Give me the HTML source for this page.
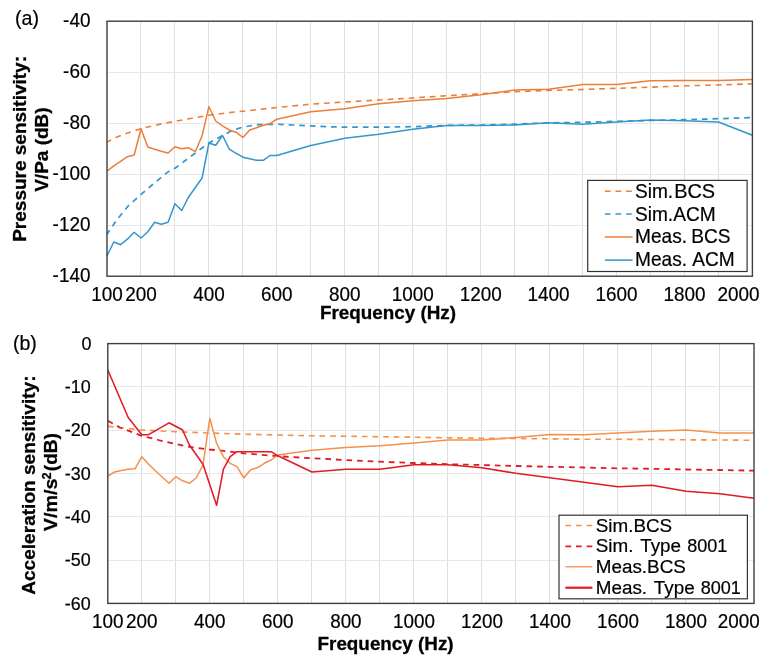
<!DOCTYPE html><html><head><meta charset="utf-8"><title>chart</title><style>
html,body{margin:0;padding:0;background:#fff}
svg{display:block;will-change:transform;opacity:0.999}
text{font-family:"Liberation Sans", sans-serif;fill:#000;stroke:#000;stroke-width:0.2px}
.b{font-weight:bold;stroke-width:0.3px}
</style></head><body>
<svg width="769" height="660" viewBox="0 0 769 660">
<rect x="0" y="0" width="769" height="660" fill="#fff"/>
<line x1="140.97" y1="21.20" x2="140.97" y2="276.20" stroke="#DFDFDF" stroke-width="1" shape-rendering="crispEdges"/>
<line x1="174.94" y1="21.20" x2="174.94" y2="276.20" stroke="#DFDFDF" stroke-width="1" shape-rendering="crispEdges"/>
<line x1="208.91" y1="21.20" x2="208.91" y2="276.20" stroke="#DFDFDF" stroke-width="1" shape-rendering="crispEdges"/>
<line x1="242.87" y1="21.20" x2="242.87" y2="276.20" stroke="#DFDFDF" stroke-width="1" shape-rendering="crispEdges"/>
<line x1="276.84" y1="21.20" x2="276.84" y2="276.20" stroke="#DFDFDF" stroke-width="1" shape-rendering="crispEdges"/>
<line x1="310.81" y1="21.20" x2="310.81" y2="276.20" stroke="#DFDFDF" stroke-width="1" shape-rendering="crispEdges"/>
<line x1="344.78" y1="21.20" x2="344.78" y2="276.20" stroke="#DFDFDF" stroke-width="1" shape-rendering="crispEdges"/>
<line x1="378.75" y1="21.20" x2="378.75" y2="276.20" stroke="#DFDFDF" stroke-width="1" shape-rendering="crispEdges"/>
<line x1="412.72" y1="21.20" x2="412.72" y2="276.20" stroke="#DFDFDF" stroke-width="1" shape-rendering="crispEdges"/>
<line x1="446.68" y1="21.20" x2="446.68" y2="276.20" stroke="#DFDFDF" stroke-width="1" shape-rendering="crispEdges"/>
<line x1="480.65" y1="21.20" x2="480.65" y2="276.20" stroke="#DFDFDF" stroke-width="1" shape-rendering="crispEdges"/>
<line x1="514.62" y1="21.20" x2="514.62" y2="276.20" stroke="#DFDFDF" stroke-width="1" shape-rendering="crispEdges"/>
<line x1="548.59" y1="21.20" x2="548.59" y2="276.20" stroke="#DFDFDF" stroke-width="1" shape-rendering="crispEdges"/>
<line x1="582.56" y1="21.20" x2="582.56" y2="276.20" stroke="#DFDFDF" stroke-width="1" shape-rendering="crispEdges"/>
<line x1="616.53" y1="21.20" x2="616.53" y2="276.20" stroke="#DFDFDF" stroke-width="1" shape-rendering="crispEdges"/>
<line x1="650.49" y1="21.20" x2="650.49" y2="276.20" stroke="#DFDFDF" stroke-width="1" shape-rendering="crispEdges"/>
<line x1="684.46" y1="21.20" x2="684.46" y2="276.20" stroke="#DFDFDF" stroke-width="1" shape-rendering="crispEdges"/>
<line x1="718.43" y1="21.20" x2="718.43" y2="276.20" stroke="#DFDFDF" stroke-width="1" shape-rendering="crispEdges"/>
<line x1="107.00" y1="72.20" x2="752.40" y2="72.20" stroke="#E8E8E8" stroke-width="1" shape-rendering="crispEdges"/>
<line x1="107.00" y1="123.20" x2="752.40" y2="123.20" stroke="#E8E8E8" stroke-width="1" shape-rendering="crispEdges"/>
<line x1="107.00" y1="174.20" x2="752.40" y2="174.20" stroke="#E8E8E8" stroke-width="1" shape-rendering="crispEdges"/>
<line x1="107.00" y1="225.20" x2="752.40" y2="225.20" stroke="#E8E8E8" stroke-width="1" shape-rendering="crispEdges"/>
<text transform="translate(90.40,27.30) scale(0.945,1)" font-size="20.00" text-anchor="end">-40</text>
<text transform="translate(90.40,78.30) scale(0.945,1)" font-size="20.00" text-anchor="end">-60</text>
<text transform="translate(90.40,129.30) scale(0.945,1)" font-size="20.00" text-anchor="end">-80</text>
<text transform="translate(90.40,180.30) scale(0.945,1)" font-size="20.00" text-anchor="end">-100</text>
<text transform="translate(90.40,231.30) scale(0.945,1)" font-size="20.00" text-anchor="end">-120</text>
<text transform="translate(90.40,282.30) scale(0.945,1)" font-size="20.00" text-anchor="end">-140</text>
<text transform="translate(107.00,300.60) scale(0.945,1)" font-size="20.00" text-anchor="middle">100</text>
<text transform="translate(140.97,300.60) scale(0.945,1)" font-size="20.00" text-anchor="middle">200</text>
<text transform="translate(208.91,300.60) scale(0.945,1)" font-size="20.00" text-anchor="middle">400</text>
<text transform="translate(276.84,300.60) scale(0.945,1)" font-size="20.00" text-anchor="middle">600</text>
<text transform="translate(344.78,300.60) scale(0.945,1)" font-size="20.00" text-anchor="middle">800</text>
<text transform="translate(412.72,300.60) scale(0.945,1)" font-size="20.00" text-anchor="middle">1000</text>
<text transform="translate(480.65,300.60) scale(0.945,1)" font-size="20.00" text-anchor="middle">1200</text>
<text transform="translate(548.59,300.60) scale(0.945,1)" font-size="20.00" text-anchor="middle">1400</text>
<text transform="translate(616.53,300.60) scale(0.945,1)" font-size="20.00" text-anchor="middle">1600</text>
<text transform="translate(684.46,300.60) scale(0.945,1)" font-size="20.00" text-anchor="middle">1800</text>
<text transform="translate(738.60,300.60) scale(0.945,1)" font-size="20.00" text-anchor="middle">2000</text>
<g fill="none" stroke-linejoin="round">
<polyline points="107.0,142.0 116.0,137.5 125.0,133.8 140.8,128.7 158.0,124.6 175.0,121.3 192.0,118.2 208.7,115.3 228.0,112.7 242.5,111.3 276.7,107.5 310.5,104.2 344.5,102.0 378.3,100.0 412.5,98.0 446.7,95.7 480.8,93.7 514.7,91.7 548.7,90.4 582.5,89.5 616.7,88.3 650.5,87.2 684.7,85.8 718.8,85.0 752.6,83.8" stroke="#EC7F38" stroke-width="1.60" stroke-dasharray="5.7 4.9" stroke-dashoffset="1.0"/>
<polyline points="107.0,234.2 116.7,220.0 128.3,205.8 140.8,194.7 155.0,182.5 168.3,171.7 175.0,168.3 192.0,155.5 208.5,143.2 222.2,135.8 233.3,130.0 242.5,127.2 256.7,124.7 276.7,124.2 293.3,125.0 310.5,125.8 328.0,126.7 344.5,127.2 378.3,127.2 412.5,126.7 446.7,125.4 480.8,125.0 514.7,124.2 548.7,122.8 582.5,122.3 616.7,121.3 650.5,120.5 684.7,119.7 718.8,118.7 752.6,117.6" stroke="#3496CF" stroke-width="1.70" stroke-dasharray="5.7 4.9" stroke-dashoffset="1.0"/>
<polyline points="107.0,171.2 113.8,165.8 120.6,161.3 127.4,156.7 134.2,155.0 141.0,128.8 147.8,147.0 154.6,149.2 161.3,151.3 168.1,153.0 174.9,146.8 181.7,148.7 188.5,147.8 195.3,151.7 202.1,135.8 208.9,106.7 215.7,121.0 222.5,125.8 229.3,130.0 236.1,132.2 242.9,137.5 249.7,130.0 256.5,127.8 263.3,125.3 270.0,123.7 276.8,119.2 310.8,111.7 344.8,108.7 378.7,103.7 412.7,100.8 446.7,98.5 480.7,94.7 514.6,90.0 548.6,89.3 582.6,84.5 616.5,84.5 650.5,80.8 684.5,80.5 718.4,80.5 752.4,79.5" stroke="#EC7F38" stroke-width="1.50"/>
<polyline points="107.0,255.8 113.8,242.0 120.6,244.7 127.4,239.2 134.2,232.2 141.0,238.0 147.8,231.7 154.6,222.2 161.3,224.3 168.1,222.2 174.9,203.8 181.7,210.5 188.5,197.2 195.3,187.5 202.1,178.0 208.9,143.0 215.7,145.3 222.5,135.5 229.3,149.2 236.1,153.3 242.9,157.2 249.7,158.8 256.5,160.3 263.3,160.3 270.0,155.5 276.8,155.5 310.8,145.5 344.8,138.3 378.7,134.2 412.7,129.2 446.7,125.5 480.7,125.5 514.6,125.0 548.6,122.8 582.6,124.2 616.5,122.0 650.5,120.0 684.5,120.8 718.4,122.0 752.4,135.3" stroke="#3496CF" stroke-width="1.50"/>
</g>
<rect x="107.00" y="21.20" width="645.40" height="255.00" fill="none" stroke="#3e3e3e" stroke-width="1.4"/>
<rect x="587.7" y="180.4" width="159.4" height="91.1" fill="#fff" stroke="#333" stroke-width="1.2"/>
<line x1="604.9" y1="191.2" x2="632.6" y2="191.2" stroke="#EC7F38" stroke-width="1.5" stroke-dasharray="5.7 4.9"/>
<text transform="translate(635.00,198.00) scale(0.965,1)" font-size="19.80" text-anchor="start">Sim.</text>
<text transform="translate(715.10,198.00) scale(1.005,1)" font-size="19.80" text-anchor="end">BCS</text>
<line x1="604.9" y1="214.0" x2="632.6" y2="214.0" stroke="#3496CF" stroke-width="1.5" stroke-dasharray="5.7 4.9"/>
<text transform="translate(635.00,220.50) scale(0.965,1)" font-size="19.80" text-anchor="start">Sim.</text>
<text transform="translate(715.60,220.50) scale(0.965,1)" font-size="19.80" text-anchor="end">ACM</text>
<line x1="604.9" y1="237.0" x2="632.6" y2="237.0" stroke="#EC7F38" stroke-width="1.5"/>
<text transform="translate(635.00,243.10) scale(0.965,1)" font-size="19.80" text-anchor="start">Meas.</text>
<text transform="translate(730.60,243.10) scale(0.965,1)" font-size="19.80" text-anchor="end">BCS</text>
<line x1="604.9" y1="260.1" x2="632.6" y2="260.1" stroke="#3496CF" stroke-width="1.5"/>
<text transform="translate(635.00,265.70) scale(0.965,1)" font-size="19.80" text-anchor="start">Meas.</text>
<text transform="translate(734.70,265.70) scale(0.965,1)" font-size="19.80" text-anchor="end">ACM</text>
<text transform="translate(14.90,25.30)" font-size="19.70" text-anchor="start">(a)</text>
<text transform="translate(388.00,318.90)" font-size="18.85" text-anchor="middle" class="b">Frequency (Hz)</text>
<text transform="translate(26.10,148.90) rotate(-90) scale(1.016,1)" font-size="18.70" text-anchor="middle" class="b">Pressure sensitivity:</text>
<text transform="translate(47.70,149.60) rotate(-90) scale(1.016,1)" font-size="18.70" text-anchor="middle" class="b">V/Pa (dB)</text>
<line x1="141.81" y1="343.60" x2="141.81" y2="603.40" stroke="#DFDFDF" stroke-width="1" shape-rendering="crispEdges"/>
<line x1="175.82" y1="343.60" x2="175.82" y2="603.40" stroke="#DFDFDF" stroke-width="1" shape-rendering="crispEdges"/>
<line x1="209.83" y1="343.60" x2="209.83" y2="603.40" stroke="#DFDFDF" stroke-width="1" shape-rendering="crispEdges"/>
<line x1="243.84" y1="343.60" x2="243.84" y2="603.40" stroke="#DFDFDF" stroke-width="1" shape-rendering="crispEdges"/>
<line x1="277.85" y1="343.60" x2="277.85" y2="603.40" stroke="#DFDFDF" stroke-width="1" shape-rendering="crispEdges"/>
<line x1="311.86" y1="343.60" x2="311.86" y2="603.40" stroke="#DFDFDF" stroke-width="1" shape-rendering="crispEdges"/>
<line x1="345.87" y1="343.60" x2="345.87" y2="603.40" stroke="#DFDFDF" stroke-width="1" shape-rendering="crispEdges"/>
<line x1="379.88" y1="343.60" x2="379.88" y2="603.40" stroke="#DFDFDF" stroke-width="1" shape-rendering="crispEdges"/>
<line x1="413.89" y1="343.60" x2="413.89" y2="603.40" stroke="#DFDFDF" stroke-width="1" shape-rendering="crispEdges"/>
<line x1="447.91" y1="343.60" x2="447.91" y2="603.40" stroke="#DFDFDF" stroke-width="1" shape-rendering="crispEdges"/>
<line x1="481.92" y1="343.60" x2="481.92" y2="603.40" stroke="#DFDFDF" stroke-width="1" shape-rendering="crispEdges"/>
<line x1="515.93" y1="343.60" x2="515.93" y2="603.40" stroke="#DFDFDF" stroke-width="1" shape-rendering="crispEdges"/>
<line x1="549.94" y1="343.60" x2="549.94" y2="603.40" stroke="#DFDFDF" stroke-width="1" shape-rendering="crispEdges"/>
<line x1="583.95" y1="343.60" x2="583.95" y2="603.40" stroke="#DFDFDF" stroke-width="1" shape-rendering="crispEdges"/>
<line x1="617.96" y1="343.60" x2="617.96" y2="603.40" stroke="#DFDFDF" stroke-width="1" shape-rendering="crispEdges"/>
<line x1="651.97" y1="343.60" x2="651.97" y2="603.40" stroke="#DFDFDF" stroke-width="1" shape-rendering="crispEdges"/>
<line x1="685.98" y1="343.60" x2="685.98" y2="603.40" stroke="#DFDFDF" stroke-width="1" shape-rendering="crispEdges"/>
<line x1="719.99" y1="343.60" x2="719.99" y2="603.40" stroke="#DFDFDF" stroke-width="1" shape-rendering="crispEdges"/>
<line x1="107.80" y1="386.90" x2="754.00" y2="386.90" stroke="#E8E8E8" stroke-width="1" shape-rendering="crispEdges"/>
<line x1="107.80" y1="430.20" x2="754.00" y2="430.20" stroke="#E8E8E8" stroke-width="1" shape-rendering="crispEdges"/>
<line x1="107.80" y1="473.50" x2="754.00" y2="473.50" stroke="#E8E8E8" stroke-width="1" shape-rendering="crispEdges"/>
<line x1="107.80" y1="516.80" x2="754.00" y2="516.80" stroke="#E8E8E8" stroke-width="1" shape-rendering="crispEdges"/>
<line x1="107.80" y1="560.10" x2="754.00" y2="560.10" stroke="#E8E8E8" stroke-width="1" shape-rendering="crispEdges"/>
<text transform="translate(91.60,349.70) scale(0.950,1)" font-size="18.90" text-anchor="end">0</text>
<text transform="translate(90.80,393.00) scale(0.950,1)" font-size="18.90" text-anchor="end">-10</text>
<text transform="translate(90.80,436.30) scale(0.950,1)" font-size="18.90" text-anchor="end">-20</text>
<text transform="translate(90.80,479.60) scale(0.950,1)" font-size="18.90" text-anchor="end">-30</text>
<text transform="translate(90.80,522.90) scale(0.950,1)" font-size="18.90" text-anchor="end">-40</text>
<text transform="translate(90.80,566.20) scale(0.950,1)" font-size="18.90" text-anchor="end">-50</text>
<text transform="translate(90.80,609.50) scale(0.950,1)" font-size="18.90" text-anchor="end">-60</text>
<text transform="translate(107.80,628.30) scale(0.968,1)" font-size="19.50" text-anchor="middle">100</text>
<text transform="translate(141.81,628.30) scale(0.968,1)" font-size="19.50" text-anchor="middle">200</text>
<text transform="translate(209.83,628.30) scale(0.968,1)" font-size="19.50" text-anchor="middle">400</text>
<text transform="translate(277.85,628.30) scale(0.968,1)" font-size="19.50" text-anchor="middle">600</text>
<text transform="translate(345.87,628.30) scale(0.968,1)" font-size="19.50" text-anchor="middle">800</text>
<text transform="translate(413.89,628.30) scale(0.968,1)" font-size="19.50" text-anchor="middle">1000</text>
<text transform="translate(481.92,628.30) scale(0.968,1)" font-size="19.50" text-anchor="middle">1200</text>
<text transform="translate(549.94,628.30) scale(0.968,1)" font-size="19.50" text-anchor="middle">1400</text>
<text transform="translate(617.96,628.30) scale(0.968,1)" font-size="19.50" text-anchor="middle">1600</text>
<text transform="translate(685.98,628.30) scale(0.968,1)" font-size="19.50" text-anchor="middle">1800</text>
<text transform="translate(738.80,628.30) scale(0.968,1)" font-size="19.50" text-anchor="middle">2000</text>
<g fill="none" stroke-linejoin="round">
<polyline points="107.8,426.3 141.7,430.0 175.3,431.7 209.5,433.0 243.7,434.2 277.8,435.0 312.0,435.8 345.5,436.2 379.5,436.7 413.7,437.2 447.8,437.8 482.0,438.2 515.8,438.5 550.0,438.8 583.8,439.2 617.8,439.3 652.0,439.5 686.0,439.8 719.7,440.0 754.0,440.3" stroke="#F5914A" stroke-width="1.60" stroke-dasharray="5.7 4.9"/>
<polyline points="107.8,420.8 120.0,427.5 141.7,435.8 158.3,440.0 175.3,444.0 191.7,447.2 209.5,449.5 223.3,450.8 243.7,453.3 277.8,456.2 312.0,458.3 345.5,460.0 379.5,461.7 413.7,463.0 447.8,464.2 482.0,465.0 515.8,466.0 550.0,466.8 583.8,467.5 617.8,468.3 652.0,468.8 686.0,469.5 719.7,470.0 754.0,470.7" stroke="#E01B24" stroke-width="1.80" stroke-dasharray="5.7 4.9"/>
<polyline points="107.8,476.2 114.6,472.0 121.4,470.4 128.2,469.2 135.0,468.8 141.8,456.7 148.6,464.2 155.4,470.8 162.2,477.0 169.0,483.3 175.8,476.7 182.6,480.8 189.4,483.3 196.2,478.0 203.0,465.0 209.8,418.3 216.6,443.3 223.4,456.7 230.2,463.3 237.0,466.7 243.8,478.0 250.6,469.7 257.4,467.8 264.2,463.3 271.1,460.0 277.9,455.0 311.9,450.3 345.9,447.5 379.9,445.8 413.9,443.0 447.9,440.0 481.9,440.0 515.9,437.5 549.9,434.5 583.9,434.7 618.0,433.0 652.0,431.3 686.0,430.0 720.0,433.0 754.0,433.0" stroke="#F5914A" stroke-width="1.50"/>
<polyline points="107.8,370.0 128.2,417.5 141.8,434.7 148.6,434.7 169.0,422.8 182.6,430.0 189.4,445.0 203.0,464.2 216.6,505.3 223.4,469.2 230.2,456.7 237.0,451.7 271.1,451.7 277.9,455.8 311.9,472.0 345.9,469.2 379.9,469.2 413.9,464.7 447.9,464.7 481.9,467.8 515.9,473.3 549.9,477.8 583.9,482.2 618.0,486.7 652.0,485.3 686.0,491.2 720.0,493.8 754.0,498.3" stroke="#E01B24" stroke-width="1.55"/>
</g>
<rect x="107.80" y="343.60" width="646.20" height="259.80" fill="none" stroke="#3e3e3e" stroke-width="1.4"/>
<rect x="559.0" y="515.2" width="188.4" height="83.6" fill="#fff" stroke="#333" stroke-width="1.2"/>
<line x1="565.4" y1="525.4" x2="592.4" y2="525.4" stroke="#F5914A" stroke-width="1.5" stroke-dasharray="5.7 4.9"/>
<text transform="translate(595.80,531.90) scale(0.992,1)" font-size="19.00" text-anchor="start">Sim.BCS</text>
<line x1="565.4" y1="546.4" x2="592.4" y2="546.4" stroke="#E01B24" stroke-width="1.9" stroke-dasharray="5.7 4.9"/>
<text transform="translate(595.80,551.80) scale(0.992,1)" font-size="19.00" text-anchor="start" style="word-spacing:1.90px">Sim. Type</text>
<text transform="translate(727.40,551.80) scale(0.950,1)" font-size="19.00" text-anchor="end">8001</text>
<line x1="565.4" y1="566.8" x2="592.4" y2="566.8" stroke="#F5914A" stroke-width="1.3"/>
<text transform="translate(595.80,572.80) scale(0.992,1)" font-size="19.00" text-anchor="start">Meas.BCS</text>
<line x1="565.4" y1="587.7" x2="592.4" y2="587.7" stroke="#E01B24" stroke-width="2.2"/>
<text transform="translate(595.80,593.70) scale(0.992,1)" font-size="19.00" text-anchor="start" style="word-spacing:1.90px">Meas. Type</text>
<text transform="translate(740.90,593.70) scale(0.950,1)" font-size="19.00" text-anchor="end">8001</text>
<text transform="translate(12.90,350.00)" font-size="19.50" text-anchor="start">(b)</text>
<text transform="translate(385.60,649.60)" font-size="18.85" text-anchor="middle" class="b">Frequency (Hz)</text>
<text transform="translate(34.50,485.10) rotate(-90) scale(1.020,1)" font-size="18.70" text-anchor="middle" class="b">Acceleration sensitivity:</text>
<text transform="translate(56.80,531.30) rotate(-90) scale(1.060,1)" font-size="18.70" text-anchor="start" class="b">V/m/s</text>
<text transform="translate(51.20,479.20) rotate(-90)" font-size="12.30" text-anchor="start" class="b">2</text>
<text transform="translate(56.80,471.20) rotate(-90) scale(1.020,1)" font-size="18.70" text-anchor="start" class="b">(dB)</text>
</svg></body></html>
